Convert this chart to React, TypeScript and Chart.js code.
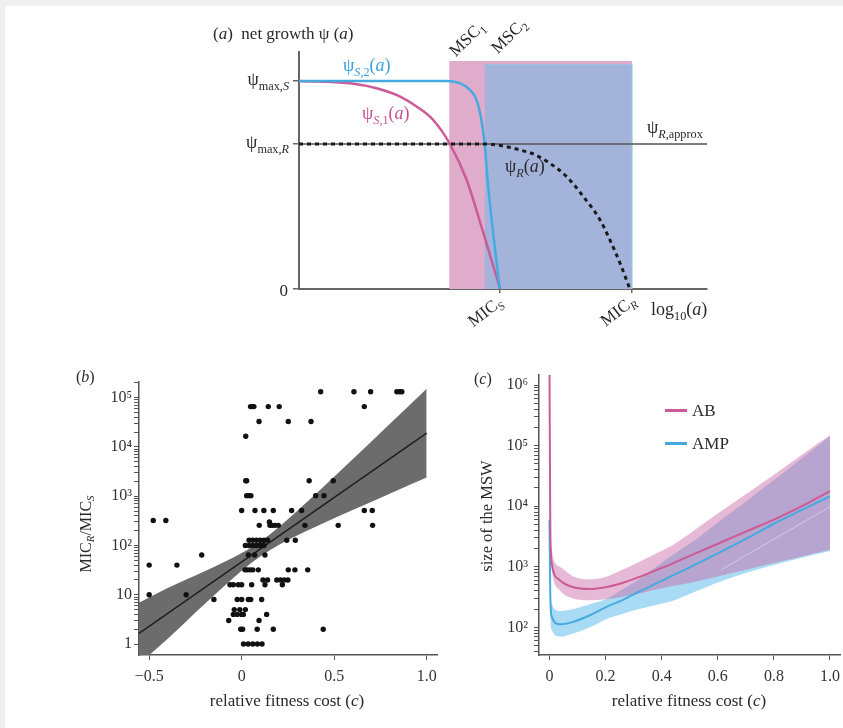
import React, { useEffect, useRef } from 'react';
import { Chart, registerables } from 'chart.js';
Chart.register(...registerables);

const SERIF = '"Liberation Serif", "DejaVu Serif", serif';
const AXIS = '#555';

// ---------- Panel (a): net growth ----------
const aPsiS1X = [0, 1.25, 1.9, 2.48, 2.9, 3.3, 3.69, 4.11, 4.52, 4.93];
const aPsiS1Y = [1, 0.989, 0.965, 0.925, 0.875, 0.81, 0.7, 0.524, 0.268, 0];
const aPsiS2X = [0, 3.62, 3.94, 4.19, 4.35, 4.47, 4.55, 4.63, 4.76, 4.92];
const aPsiS2Y = [1, 1, 0.989, 0.957, 0.909, 0.813, 0.697, 0.508, 0.267, 0];
const aPsiRX = [0, 4.5, 4.76, 5.09, 5.42, 5.74, 6.15, 6.56, 6.97, 7.38, 7.62, 7.87, 8.11];
const aPsiRY = [0.697, 0.697, 0.694, 0.684, 0.668, 0.649, 0.604, 0.54, 0.444, 0.332, 0.236, 0.123, 0];
const aPsiMaxS = 1;
const aPsiMaxR = 0.697;
const aMSC1 = 3.68;
const aMSC2 = 4.55;
const aMICS = 4.93;
const aMICR = 8.16;
const aWindowTop1 = 1.096;
const aWindowTop2 = 1.077;

// ---------- Panel (b): MIC ratio vs fitness cost ----------
const bLevels = [1, 2, 3, 4, 5, 8, 10, 16, 20, 32, 40, 64, 100, 128, 256, 300, 320, 512, 1024, 2048, 16384, 32768, 65536, 131072];
const bXByLevel = [
  [0.01, 0.035, 0.06, 0.085, 0.11],
  [-0.005, 0.005, 0.084, 0.171, 0.441],
  [-0.07, 0.094],
  [-0.045, -0.024, 0, 0.009, 0.135],
  [-0.04, -0.01, 0.02],
  [-0.15, -0.024, 0, 0.036, 0.049, 0.108],
  [-0.5, -0.3],
  [-0.063, -0.045, -0.018, 0, 0.054, 0.126, 0.22],
  [0.115, 0.14, 0.19, 0.21, 0.23, 0.25],
  [0.018, 0.03, 0.045, 0.06, 0.09, 0.252, 0.288, 0.357],
  [-0.5, -0.35],
  [-0.216, 0.036, 0.07, 0.126],
  [0.02, 0.04, 0.06, 0.08, 0.1, 0.12],
  [0.04, 0.06, 0.08, 0.1, 0.12, 0.14, 0.244, 0.29],
  [0.095, 0.153, 0.165, 0.18, 0.198, 0.342, 0.522, 0.708],
  [0.15],
  [-0.478, -0.41],
  [0, 0.072, 0.12, 0.171, 0.27, 0.324, 0.663, 0.706],
  [0.027, 0.038, 0.05, 0.4, 0.445],
  [0.022, 0.027, 0.365, 0.495],
  [0.022],
  [0.094, 0.252, 0.375],
  [0.048, 0.058, 0.066, 0.144, 0.203, 0.663],
  [0.427, 0.607, 0.697, 0.839, 0.855, 0.866],
];
const bFitX = [-0.555, 1.0];
const bFitY = [1.65, 19000];
const bBandX = [-0.555, -0.4, -0.2, 0, 0.1, 0.2, 0.4, 0.6, 0.8, 1.0];
const bBandUpper = [6.86, 13.7, 29.9, 70.1, 119, 233, 1104, 5610, 29040, 151400];
const bBandLower = [0.394, 1.28, 6.47, 30.6, 59.8, 102, 239, 524, 1125, 2400];
const bXTicks = [-0.5, 0, 0.5, 1.0];
const bXTickLabels = ['\u22120.5', '0', '0.5', '1.0'];
const bYTicks = [1, 10, 100, 1000, 10000, 100000];
const bYTickLabels = ['1', '10', '10\u00b2', '10\u00b3', '10\u2074', '10\u2075'];

// ---------- Panel (c): size of the MSW ----------
const cX = [0, 0.003, 0.008, 0.037, 0.085, 0.144, 0.2, 0.26, 0.32, 0.38, 0.44, 0.5, 0.6, 0.7, 0.8, 0.9, 1.0];
const cABLine = [2.0e6, 4000, 1140, 600, 460, 430, 460, 540, 680, 880, 1140, 1510, 2400, 3800, 6000, 10000, 17800];
const cABUpper = [2.0e6, 10000, 1890, 1000, 690, 620, 680, 890, 1200, 1660, 2290, 3550, 7600, 15800, 33000, 71000, 148000];
const cABLower = [4000, 2000, 880, 410, 300, 280, 290, 320, 360, 420, 480, 540, 690, 890, 1150, 1480, 1900];
const cAMPLine = [5900, 316, 150, 112, 123, 158, 214, 282, 390, 530, 720, 980, 1660, 2880, 5130, 8700, 14500];
const cAMPUpper = [48000, 630, 245, 186, 200, 240, 290, 420, 630, 1000, 1580, 2400, 5400, 12000, 27000, 62000, 141000];
const cAMPLower = [1000, 158, 90, 70, 79, 100, 135, 166, 200, 234, 275, 355, 550, 790, 1070, 1410, 1820];
const cFaintX = [0.61, 1.0];
const cFaintY = [880, 9800];
const cXTicks = [0, 0.2, 0.4, 0.6, 0.8, 1.0];
const cXTickLabels = ['0', '0.2', '0.4', '0.6', '0.8', '1.0'];
const cYTicks = [100, 1000, 10000, 100000, 1000000];
const cYTickLabels = ['10\u00b2', '10\u00b3', '10\u2074', '10\u2075', '10\u2076'];

const PINK = '#cc5a96';
const BLUE = '#46aae1';

const pts = (xs: number[], ys: number[]) => xs.map((x, i) => ({ x, y: ys[i] }));

function minorTicks(lo: number, hi: number) {
  const out: number[] = [];
  for (let e = -1; e <= 7; e++) {
    for (let m = 1; m <= 9; m++) {
      const v = parseFloat((m * Math.pow(10, e)).toPrecision(6));
      if (v >= lo && v <= hi) out.push(v);
    }
  }
  return out;
}

const fixY = (w: number) => (s: any) => { s.width = w; s.paddingTop = 0; s.paddingBottom = 0; };
const fixX = (h: number) => (s: any) => { s.height = h; s.paddingLeft = 0; s.paddingRight = 0; };

function axis(extra: any) {
  return {
    border: { display: true, color: AXIS, width: 1.5 },
    grid: { display: true, drawOnChartArea: false, drawTicks: true, tickLength: 5, color: AXIS, lineWidth: 1 },
    ...extra,
    ticks: { autoSkip: false, maxRotation: 0, minRotation: 0, font: { family: SERIF, size: 16 }, color: '#333', padding: 7, ...(extra.ticks || {}) },
  };
}

const common = {
  animation: false as const,
  responsive: false,
  events: [] as any[],
  plugins: { legend: { display: false }, tooltip: { enabled: false } },
};

function makeA() {
  return {
    type: 'scatter',
    data: {
      datasets: [
        { data: pts(aPsiRX, aPsiRY), showLine: true, borderColor: '#1a1a1a', borderWidth: 3, borderDash: [4, 4], pointRadius: 0, cubicInterpolationMode: 'monotone', order: 0 },
        { data: pts(aPsiS2X, aPsiS2Y), showLine: true, borderColor: BLUE, borderWidth: 2.5, pointRadius: 0, cubicInterpolationMode: 'monotone', order: 1 },
        { data: pts(aPsiS1X, aPsiS1Y), showLine: true, borderColor: PINK, borderWidth: 2.5, pointRadius: 0, cubicInterpolationMode: 'monotone', order: 2 },
        { data: [{ x: 0, y: aPsiMaxR }, { x: 10, y: aPsiMaxR }], showLine: true, borderColor: '#555', borderWidth: 1.5, pointRadius: 0, order: 3 },
        { data: [{ x: aMSC2, y: aWindowTop2 }, { x: aMICR, y: aWindowTop2 }, { x: aMICR, y: 0 }], showLine: true, fill: 'origin', backgroundColor: '#a3b3d9', borderColor: '#93c3e8', borderWidth: 1.2, pointRadius: 0, order: 4 },
        { data: [{ x: aMSC1, y: aWindowTop1 }, { x: aMICR, y: aWindowTop1 }], showLine: true, fill: 'origin', backgroundColor: '#dfaccb', borderColor: 'rgba(0,0,0,0)', borderWidth: 0, pointRadius: 0, order: 5 },
      ],
    },
    options: {
      ...common,
      layout: { padding: { top: 32, right: 13, left: 0, bottom: 0 } },
      scales: {
        x: axis({
          type: 'linear', min: 0, max: 10,
          border: { display: true, color: '#666', width: 2 },
          grid: { display: true, drawOnChartArea: false, drawTicks: true, tickLength: 4, color: '#666', lineWidth: 1.5 },
          afterBuildTicks: (s: any) => { s.ticks = [aMICS, aMICR].map((v) => ({ value: v })); },
          afterFit: fixX(41),
          ticks: { callback: () => '' },
        }),
        y: axis({
          type: 'linear', min: 0, max: 1.139,
          border: { display: true, color: '#666', width: 2 },
          grid: { display: true, drawOnChartArea: false, drawTicks: true, tickLength: 6, color: '#666', lineWidth: 1.5 },
          afterBuildTicks: (s: any) => { s.ticks = [0, aPsiMaxR, aPsiMaxS].map((v) => ({ value: v })); },
          afterFit: fixY(99),
          ticks: { callback: () => '' },
        }),
      },
    },
  };
}

function makeB() {
  const scatter: { x: number; y: number }[] = [];
  bLevels.forEach((lv, i) => bXByLevel[i].forEach((x) => scatter.push({ x, y: lv })));
  const yTicks = minorTicks(1, 200000);
  return {
    type: 'scatter',
    data: {
      datasets: [
        { data: scatter, showLine: false, pointRadius: 2.7, pointBackgroundColor: '#111', pointBorderWidth: 0, order: 0 },
        { data: pts(bFitX, bFitY), showLine: true, borderColor: '#1e1e1e', borderWidth: 1.5, pointRadius: 0, order: 1 },
        { data: pts(bBandX, bBandUpper), showLine: true, fill: '+1', backgroundColor: '#6c6c6c', borderColor: 'rgba(0,0,0,0)', borderWidth: 0, pointRadius: 0, cubicInterpolationMode: 'monotone', order: 2 },
        { data: pts(bBandX, bBandLower), showLine: true, borderColor: 'rgba(0,0,0,0)', borderWidth: 0, pointRadius: 0, cubicInterpolationMode: 'monotone', order: 3 },
      ],
    },
    options: {
      ...common,
      layout: { padding: { top: 12, right: 13, left: 0, bottom: 0 } },
      scales: {
        x: axis({
          type: 'linear', min: -0.555, max: 1.056,
          afterBuildTicks: (s: any) => { s.ticks = bXTicks.map((v) => ({ value: v })); },
          afterFit: fixX(60),
          ticks: { callback: (v: number) => { const i = bXTicks.indexOf(v); return i >= 0 ? bXTickLabels[i] : ''; } },
        }),
        y: axis({
          type: 'logarithmic', min: 0.649, max: 207000,
          afterBuildTicks: (s: any) => { s.ticks = yTicks.map((v) => ({ value: v })); },
          afterFit: fixY(79),
          ticks: { padding: 2, callback: (v: number) => { const i = bYTicks.indexOf(v); return i >= 0 ? bYTickLabels[i] : ''; } },
        }),
      },
    },
  };
}

function makeC() {
  const yTicks = minorTicks(40, 1400000);
  const band = { showLine: true, pointRadius: 0, borderWidth: 0, borderColor: 'rgba(0,0,0,0)', cubicInterpolationMode: 'monotone' };
  return {
    type: 'scatter',
    data: {
      datasets: [
        { data: pts(cX, cABLine), showLine: true, borderColor: PINK, borderWidth: 2, pointRadius: 0, cubicInterpolationMode: 'monotone', order: 0 },
        { data: pts(cX, cAMPLine), showLine: true, borderColor: BLUE, borderWidth: 2, pointRadius: 0, cubicInterpolationMode: 'monotone', order: 1 },
        { data: pts(cFaintX, cFaintY), showLine: true, borderColor: 'rgba(255,255,255,0.4)', borderWidth: 1, pointRadius: 0, order: 2 },
        { data: pts(cX, cABUpper), ...band, fill: '+1', backgroundColor: 'rgba(200,100,165,0.45)', order: 3 },
        { data: pts(cX, cABLower), ...band, order: 4 },
        { data: pts(cX, cAMPUpper), ...band, fill: '+1', backgroundColor: 'rgba(100,190,235,0.55)', order: 5 },
        { data: pts(cX, cAMPLower), ...band, order: 6 },
      ],
    },
    options: {
      ...common,
      layout: { padding: { top: 5, right: 3, left: 0, bottom: 0 } },
      scales: {
        x: axis({
          type: 'linear', min: -0.0374, max: 1.0357,
          afterBuildTicks: (s: any) => { s.ticks = cXTicks.map((v) => ({ value: v })); },
          afterFit: fixX(60),
          ticks: { callback: (v: number) => { const i = cXTicks.indexOf(v); return i >= 0 ? cXTickLabels[i] : ''; } },
        }),
        y: axis({
          type: 'logarithmic', min: 34.9, max: 1466000,
          afterBuildTicks: (s: any) => { s.ticks = yTicks.map((v) => ({ value: v })); },
          afterFit: fixY(79),
          ticks: { padding: 6, callback: (v: number) => { const i = cYTicks.indexOf(v); return i >= 0 ? cYTickLabels[i] : ''; } },
        }),
      },
    },
  };
}

function ChartCanvas({ left, top, width, height, make }: any) {
  const ref = useRef<HTMLCanvasElement>(null);
  useEffect(() => {
    const chart = new Chart(ref.current as HTMLCanvasElement, make());
    return () => chart.destroy();
  }, []);
  return <canvas ref={ref} width={width} height={height} style={{ position: 'absolute', left, top, width, height }} />;
}

const Sub = ({ children }: any) => <span style={{ fontSize: '0.68em', verticalAlign: '-0.35em' }}>{children}</span>;
const I = ({ children }: any) => <i>{children}</i>;

function T({ x, y, align = 'left', rot = 0, size = 17, color = '#2a2a2a', children }: any) {
  const tx = align === 'left' ? '0%' : align === 'right' ? '-100%' : '-50%';
  return (
    <div
      style={{
        position: 'absolute', left: x, top: y, transform: `translate(${tx}, -50%) rotate(${rot}deg)`,
        whiteSpace: 'nowrap', fontFamily: SERIF, fontSize: size, color, lineHeight: 1,
      }}
    >
      {children}
    </div>
  );
}

export default function App() {
  return (
    <div style={{ position: 'fixed', left: 0, top: 0, width: 843, height: 728, background: '#eef0f2', overflow: 'hidden' }}>
      <div style={{ position: 'absolute', left: 5, top: 6, width: 838, height: 722, background: '#fff' }} />
      <ChartCanvas left={200} top={20} width={520} height={310} make={makeA} />
      <ChartCanvas left={60} top={370} width={390} height={345} make={makeB} />
      <ChartCanvas left={460} top={370} width={383} height={345} make={makeC} />

      {/* panel (a) texts */}
      <T x={213} y={33}>(<I>a</I>)&nbsp; net growth ψ (<I>a</I>)</T>
      <T x={289} y={81} align="right" size={18}>ψ<Sub>max,<I>S</I></Sub></T>
      <T x={289} y={144} align="right" size={18}>ψ<Sub>max,<I>R</I></Sub></T>
      <T x={288} y={290} align="right">0</T>
      <T x={343} y={67} size={18} color="#3a9fdc">ψ<Sub><I>S</I>,2</Sub>(<I>a</I>)</T>
      <T x={362} y={115} size={18} color="#c8508f">ψ<Sub><I>S</I>,1</Sub>(<I>a</I>)</T>
      <T x={647} y={129} size={18}>ψ<Sub><I>R</I>,approx</Sub></T>
      <T x={505} y={168} size={18}>ψ<Sub><I>R</I></Sub>(<I>a</I>)</T>
      <T x={468} y={40} align="center" rot={-45}>MSC<Sub>1</Sub></T>
      <T x={510} y={37} align="center" rot={-45}>MSC<Sub>2</Sub></T>
      <T x={486} y={313} align="center" rot={-38}>MIC<Sub><I>S</I></Sub></T>
      <T x={619} y={312} align="center" rot={-38}>MIC<Sub><I>R</I></Sub></T>
      <T x={651} y={311} size={18}>log<Sub>10</Sub>(<I>a</I>)</T>

      {/* panel (b) texts */}
      <T x={76} y={377} size={16}>(<I>b</I>)</T>
      <T x={87} y={534} align="center" rot={-90} size={16}>MIC<Sub><I>R</I></Sub>/MIC<Sub><I>S</I></Sub></T>
      <T x={287} y={700} align="center">relative fitness cost (<I>c</I>)</T>

      {/* panel (c) texts */}
      <T x={474} y={379} size={16}>(<I>c</I>)</T>
      <T x={487} y={516} align="center" rot={-90} size={16.5}>size of the MSW</T>
      <T x={689} y={700} align="center">relative fitness cost (<I>c</I>)</T>
      <div style={{ position: 'absolute', left: 665, top: 409, width: 22, height: 2.5, background: PINK }} />
      <T x={692} y={410} size={17}>AB</T>
      <div style={{ position: 'absolute', left: 665, top: 442, width: 22, height: 2.5, background: BLUE }} />
      <T x={692} y={443} size={17}>AMP</T>
    </div>
  );
}
